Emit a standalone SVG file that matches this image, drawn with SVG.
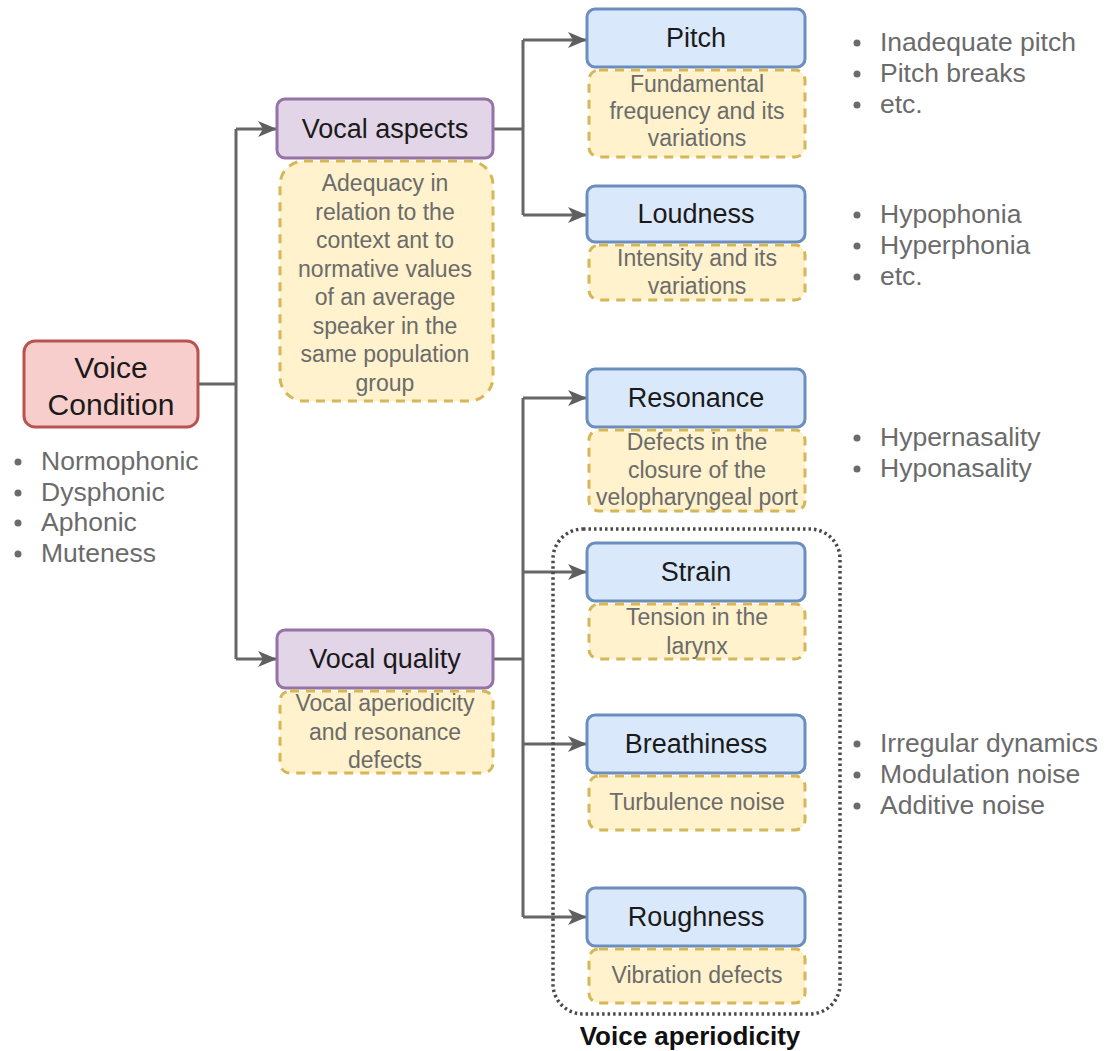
<svg xmlns="http://www.w3.org/2000/svg" width="1119" height="1051" viewBox="0 0 1119 1051">
<style>
text{font-family:"Liberation Sans",Arial,sans-serif;text-anchor:middle;dominant-baseline:central}
.title{font-size:27px;fill:#1a1a1a}
.big{font-size:30px;fill:#1a1a1a}
.note{font-size:23px;fill:#6b6b6b}
.blt{font-size:26.5px;fill:#6b6b6b;text-anchor:start}
.dot{fill:#6b6b6b}
.red{fill:#f8cecc;stroke:#b85450;stroke-width:3}
.pur{fill:#e1d5e7;stroke:#9673a6;stroke-width:3}
.blu{fill:#dae8fc;stroke:#6c8ebf;stroke-width:3}
.yel{fill:#fff2cc;stroke:#d6b656;stroke-width:3;stroke-dasharray:9 7}
.con{fill:none;stroke:#666;stroke-width:3}
</style>
<defs>
<marker id="arr" markerUnits="userSpaceOnUse" markerWidth="20" markerHeight="18" viewBox="0 0 20 18" refX="18" refY="9" orient="auto">
<path d="M0,1 L19,9 L0,17 L5,9 Z" fill="#5f5f5f"/>
</marker>
</defs>
<g id="connectors">
<path class="con" d="M198,384 H236"/>
<path class="con" d="M236,129 V659"/>
<path class="con" d="M236,129 H276" marker-end="url(#arr)"/>
<path class="con" d="M236,659 H276" marker-end="url(#arr)"/>
<path class="con" d="M493,129 H523"/>
<path class="con" d="M523,40 V215"/>
<path class="con" d="M523,40 H586" marker-end="url(#arr)"/>
<path class="con" d="M523,215 H586" marker-end="url(#arr)"/>
<path class="con" d="M493,659 H523"/>
<path class="con" d="M523,398 V917"/>
<path class="con" d="M523,398 H586" marker-end="url(#arr)"/>
<path class="con" d="M523,572 H586" marker-end="url(#arr)"/>
<path class="con" d="M523,744 H586" marker-end="url(#arr)"/>
<path class="con" d="M523,917 H586" marker-end="url(#arr)"/>
</g>
<g id="voice-aperiodicity-group">
<rect x="553" y="529" width="287" height="485" rx="30" fill="none" stroke="#4a4a4a" stroke-width="3.5" stroke-dasharray="2.5 3"/>
<text x="690" y="1036" style="font-size:26px;font-weight:bold;fill:#111">Voice aperiodicity</text>
</g>
<g id="voice-condition">
<rect class="red" x="24" y="341" width="174" height="86" rx="11"/>
<text class="big" x="111" y="367">Voice</text>
<text class="big" x="111" y="404">Condition</text>
<circle class="dot" cx="18" cy="462" r="3.5"/><text class="blt" x="41" y="461">Normophonic</text>
<circle class="dot" cx="18" cy="493" r="3.5"/><text class="blt" x="41" y="492">Dysphonic</text>
<circle class="dot" cx="18" cy="523" r="3.5"/><text class="blt" x="41" y="522">Aphonic</text>
<circle class="dot" cx="18" cy="554" r="3.5"/><text class="blt" x="41" y="553">Muteness</text>
</g>
<g id="vocal-aspects">
<rect class="pur" x="277" y="99" width="216" height="59" rx="8"/>
<text class="title" x="385" y="129">Vocal aspects</text>
<rect class="yel" x="280" y="161" width="213" height="240" rx="24"/>
<text class="note" x="385" y="183">Adequacy in</text>
<text class="note" x="385" y="212">relation to the</text>
<text class="note" x="385" y="240">context ant to</text>
<text class="note" x="385" y="269">normative values</text>
<text class="note" x="385" y="297">of an average</text>
<text class="note" x="385" y="326">speaker in the</text>
<text class="note" x="385" y="354">same population</text>
<text class="note" x="385" y="383">group</text>
</g>
<g id="vocal-quality">
<rect class="pur" x="277" y="630" width="216" height="58" rx="8"/>
<text class="title" x="385" y="659">Vocal quality</text>
<rect class="yel" x="280" y="691" width="213" height="82" rx="10"/>
<text class="note" x="385" y="703">Vocal aperiodicity</text>
<text class="note" x="385" y="732">and resonance</text>
<text class="note" x="385" y="760">defects</text>
</g>
<g id="pitch">
<rect class="blu" x="587" y="9" width="218" height="58" rx="8"/>
<text class="title" x="696" y="38">Pitch</text>
<rect class="yel" x="589" y="70" width="216" height="87" rx="10"/>
<text class="note" x="697" y="84">Fundamental</text>
<text class="note" x="697" y="111">frequency and its</text>
<text class="note" x="697" y="138">variations</text>
<circle class="dot" cx="857" cy="43" r="3.5"/><text class="blt" x="880" y="42">Inadequate pitch</text>
<circle class="dot" cx="857" cy="74" r="3.5"/><text class="blt" x="880" y="73">Pitch breaks</text>
<circle class="dot" cx="857" cy="105" r="3.5"/><text class="blt" x="880" y="104">etc.</text>
</g>
<g id="loudness">
<rect class="blu" x="587" y="186" width="218" height="56" rx="8"/>
<text class="title" x="696" y="214">Loudness</text>
<rect class="yel" x="589" y="245" width="216" height="55" rx="10"/>
<text class="note" x="697" y="258">Intensity and its</text>
<text class="note" x="697" y="286">variations</text>
<circle class="dot" cx="857" cy="215" r="3.5"/><text class="blt" x="880" y="214">Hypophonia</text>
<circle class="dot" cx="857" cy="246" r="3.5"/><text class="blt" x="880" y="245">Hyperphonia</text>
<circle class="dot" cx="857" cy="277" r="3.5"/><text class="blt" x="880" y="276">etc.</text>
</g>
<g id="resonance">
<rect class="blu" x="587" y="369" width="218" height="58" rx="8"/>
<text class="title" x="696" y="398">Resonance</text>
<rect class="yel" x="589" y="430" width="216" height="81" rx="10"/>
<text class="note" x="697" y="442">Defects in the</text>
<text class="note" x="697" y="470">closure of the</text>
<text class="note" x="697" y="497">velopharyngeal port</text>
<circle class="dot" cx="857" cy="438" r="3.5"/><text class="blt" x="880" y="437">Hypernasality</text>
<circle class="dot" cx="857" cy="469" r="3.5"/><text class="blt" x="880" y="468">Hyponasality</text>
</g>
<g id="strain">
<rect class="blu" x="587" y="543" width="218" height="58" rx="8"/>
<text class="title" x="696" y="572">Strain</text>
<rect class="yel" x="589" y="604" width="216" height="55" rx="10"/>
<text class="note" x="697" y="617">Tension in the</text>
<text class="note" x="697" y="646">larynx</text>
</g>
<g id="breathiness">
<rect class="blu" x="587" y="715" width="218" height="58" rx="8"/>
<text class="title" x="696" y="744">Breathiness</text>
<rect class="yel" x="589" y="776" width="216" height="54" rx="10"/>
<text class="note" x="697" y="802">Turbulence noise</text>
<circle class="dot" cx="857" cy="744" r="3.5"/><text class="blt" x="880" y="743">Irregular dynamics</text>
<circle class="dot" cx="857" cy="775" r="3.5"/><text class="blt" x="880" y="774">Modulation noise</text>
<circle class="dot" cx="857" cy="806" r="3.5"/><text class="blt" x="880" y="805">Additive noise</text>
</g>
<g id="roughness">
<rect class="blu" x="587" y="888" width="218" height="58" rx="8"/>
<text class="title" x="696" y="917">Roughness</text>
<rect class="yel" x="589" y="949" width="216" height="54" rx="10"/>
<text class="note" x="697" y="975">Vibration defects</text>
</g>
</svg>
